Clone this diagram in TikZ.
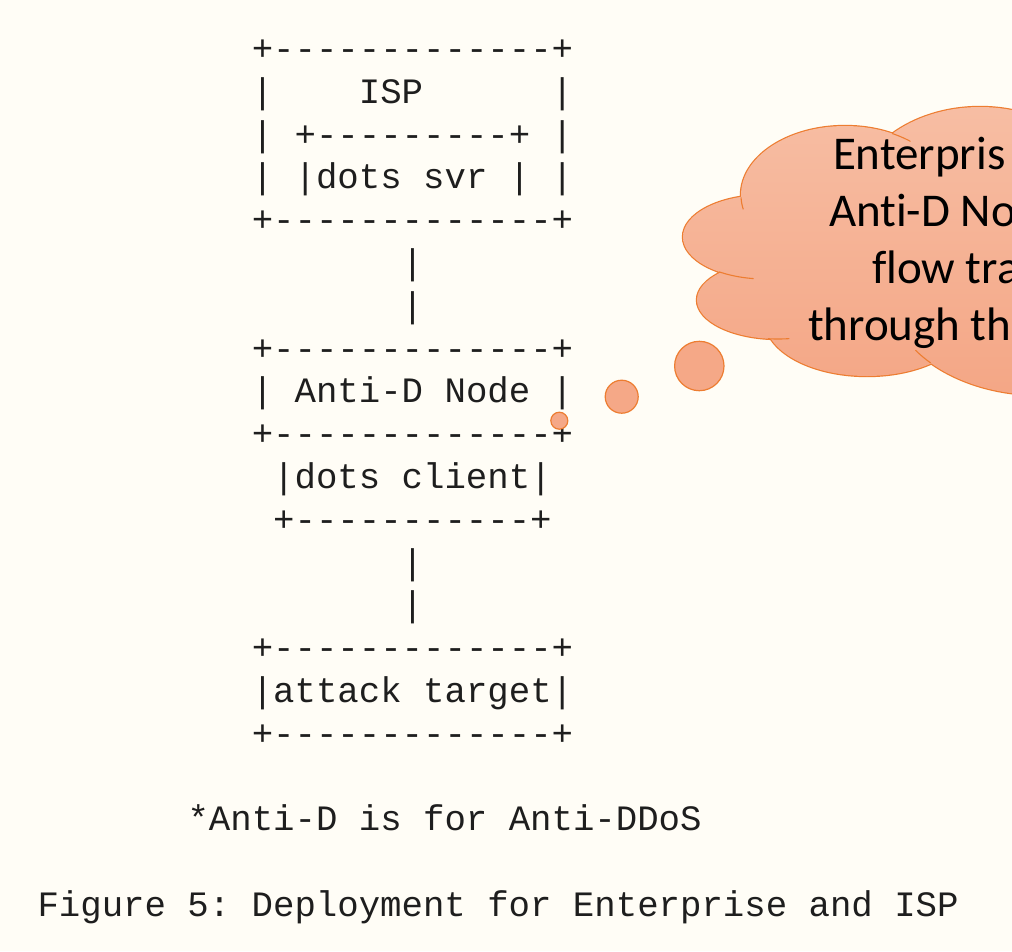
\documentclass[tikz,border=0pt]{standalone}
\usepackage{fontspec}
\setmonofont{Liberation Mono}
\newfontfamily\bubblefont{Carlito}[Ligatures={NoCommon}]

\definecolor{paper}{RGB}{255,253,246}
\definecolor{ink}{RGB}{30,30,30}
\definecolor{cloudline}{RGB}{237,125,49}
\definecolor{cloudtop}{RGB}{247,190,164}
\definecolor{cloudbottom}{RGB}{244,166,133}
\definecolor{bubble}{RGB}{245,168,135}

% lobes of the thought cloud (pixel-style coordinates, y grows downwards)
\newcommand\cloudlobes{%
  (845,195) ellipse [x radius=104, y radius=69]
  (980,200) ellipse [x radius=125, y radius=93]
  (765,237) ellipse [x radius=82, y radius=42]
  (778,300) ellipse [x radius=81, y radius=39]
  (867,320) ellipse [x radius=102, y radius=56]
  (1040,290) ellipse [x radius=152, y radius=105]
  (880,250) ellipse [x radius=130, y radius=90]}

\begin{document}
\begin{tikzpicture}[x=1pt,y=-1pt,
  ascii/.style={anchor=base west,inner sep=0pt,outer sep=0pt,text=ink,
    font=\ttfamily\fontsize{35.7pt}{42.8pt}\selectfont},
  cloudtext/.style={anchor=base west,inner sep=0pt,outer sep=0pt,text=black,
    font=\bubblefont\fontsize{47pt}{57pt}\selectfont},
  puff/.style={fill=bubble,draw=cloudline,line width=1.2pt},
  stub/.style={draw=cloudline,line width=1.1pt},
]
\useasboundingbox (0,0) rectangle (1012,951);
\fill[paper] (0,0) rectangle (1012,951);
\clip (0,0) rectangle (1012,951);

% ---- ASCII deployment figure (column pitch 21.43, row pitch 42.8) ----
\node[ascii] (ispTop)    at (251.8,60.4)  {+-------------+};
\node[ascii] (ispName)   at (251.8,103.2) {|~~~~ISP~~~~~~|};
\node[ascii] (svrTop)    at (251.8,146.0) {|~+---------+~|};
\node[ascii] (svrName)   at (251.8,188.8) {|~|dots~svr~|~|};
\node[ascii] (ispBottom) at (251.8,231.6) {+-------------+};
\node[ascii] (linkA)     at (401.8,274.4) {|};
\node[ascii] (linkB)     at (401.8,317.2) {|};
\node[ascii] (antiTop)   at (251.8,360.0) {+-------------+};
\node[ascii] (antiName)  at (251.8,402.8) {|~Anti-D~Node~|};
\node[ascii] (antiBottom)at (251.8,445.6) {+-------------+};
\node[ascii] (clientName)at (273.2,488.4) {|dots~client|};
\node[ascii] (clientBottom) at (273.2,531.2) {+-----------+};
\node[ascii] (linkC)     at (401.8,574.0) {|};
\node[ascii] (linkD)     at (401.8,616.8) {|};
\node[ascii] (targetTop) at (251.8,659.6) {+-------------+};
\node[ascii] (targetName)at (251.8,702.4) {|attack~target|};
\node[ascii] (targetBottom) at (251.8,745.2) {+-------------+};
\node[ascii] (footnote)  at (187.5,830.8) {*Anti-D~is~for~Anti-DDoS};
\node[ascii] (caption)   at (37.5,916.4)  {Figure~5:~Deployment~for~Enterprise~and~ISP};

% ---- thought cloud: outline first, then the shaded body over its inner half ----
\draw[draw=cloudline,line width=2.4pt] \cloudlobes;
\begin{scope}
  \clip \cloudlobes;
  \shade[top color=cloudtop,bottom color=cloudbottom] (660,100) rectangle (1200,400);
\end{scope}
% short inner arcs where lobes meet
\draw[stub] plot[domain=178:168,samples=12] ({845+104*cos(\x)},{195+69*sin(\x)});
\draw[stub] plot[domain=-63:-51,samples=12] ({845+104*cos(\x)},{195+69*sin(\x)});
\draw[stub] plot[domain=124:98,samples=16] ({765+82*cos(\x)},{237+42*sin(\x)});
\draw[stub] plot[domain=97:82,samples=12] ({778+81*cos(\x)},{300+39*sin(\x)});
\draw[stub] plot[domain=136:145,samples=12] ({1040+152*cos(\x)},{290+105*sin(\x)});

% thought bubbles leading to the Anti-D Node box
\path[puff] (699.3,366.0) circle [radius=24.7];
\path[puff] (621.7,396.7) circle [radius=16.5];
\path[puff] (559.3,420.7) circle [radius=8.5];

% cloud text
\node[cloudtext] (noteA) at (833,169.5) {Enterpris};
\node[cloudtext] (noteB) at (829,226.4) {Anti-D No};
\node[cloudtext] (noteC) at (872,283.3) {flow tra};
\node[cloudtext] (noteD) at (808,340.2) {through th};
\end{tikzpicture}
\end{document}
